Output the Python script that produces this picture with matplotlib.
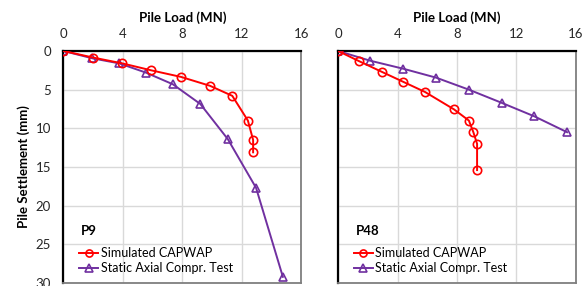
import matplotlib.pyplot as plt

# P9 verileri
p9_capwap_load = [0, 2.0, 3.95, 5.9, 7.9, 9.85, 11.35, 12.4, 12.75, 12.75]
p9_capwap_sett = [0, 0.85, 1.6, 2.5, 3.35, 4.5, 5.8, 9.0, 11.5, 13.1]
p9_static_load = [0, 1.95, 3.75, 5.55, 7.35, 9.2, 11.05, 12.95, 14.75]
p9_static_sett = [0, 0.95, 1.6, 2.8, 4.3, 6.85, 11.4, 17.7, 29.2]

# P48 verileri
p48_capwap_load = [0, 1.4, 2.95, 4.4, 5.85, 7.8, 8.8, 9.1, 9.35, 9.35]
p48_capwap_sett = [0, 1.3, 2.7, 4.0, 5.3, 7.55, 9.0, 10.5, 12.0, 15.4]
p48_static_load = [0, 2.15, 4.4, 6.6, 8.8, 11.0, 13.2, 15.4]
p48_static_sett = [0, 1.25, 2.3, 3.45, 5.0, 6.7, 8.45, 10.5]

x_ticks = [0, 4, 8, 12, 16]
y_ticks = [0, 5, 10, 15, 20, 25, 30]

plt.rcParams['font.family'] = ['Lato', 'DejaVu Sans']

fig = plt.figure(figsize=(5.85, 2.86), dpi=100)
ax1 = fig.add_axes([0.1085, 0.0105, 0.4068, 0.8112])
ax2 = fig.add_axes([0.5778, 0.0105, 0.4068, 0.8112])

panels = [
    (ax1, 'P9', p9_capwap_load, p9_capwap_sett, p9_static_load, p9_static_sett),
    (ax2, 'P48', p48_capwap_load, p48_capwap_sett, p48_static_load, p48_static_sett),
]

for ax, name, cl, cs, sl, ss in panels:
    ax.plot(cl, cs, color='#FF0000', lw=1.4, marker='o', ms=6, mfc='none',
            mew=1.2, label='Simulated CAPWAP', zorder=4)
    ax.plot(sl, ss, color='#7030A0', lw=1.4, marker='^', ms=6, mfc='none',
            mew=1.2, label='Static Axial Compr. Test', zorder=3)
    ax.set_xlim(0, 16)
    ax.set_ylim(30, 0)
    ax.set_xticks(x_ticks)
    ax.set_yticks(y_ticks)
    ax.xaxis.tick_top()
    ax.xaxis.set_label_position('top')
    ax.set_xlabel('Pile Load (MN)', fontsize=9.5, fontweight='bold', labelpad=4)
    ax.tick_params(length=0, labelsize=9.5, colors='#262626')
    ax.tick_params(axis='x', pad=8)
    ax.tick_params(axis='y', pad=9)
    ax.grid(True, color='#D9D9D9', lw=1)
    ax.set_axisbelow(True)
    ax.spines['left'].set_color('black')
    ax.spines['left'].set_linewidth(1.6)
    ax.spines['top'].set_color('black')
    ax.spines['top'].set_linewidth(1.6)
    ax.spines['right'].set_color('#7F7F7F')
    ax.spines['right'].set_linewidth(1.3)
    ax.spines['bottom'].set_color('#7F7F7F')
    ax.spines['bottom'].set_linewidth(1.3)
    ax.text(0.075, 0.225, name, transform=ax.transAxes, fontsize=9.5,
            fontweight='bold', va='center', ha='left')
    ax.legend(loc='lower left', bbox_to_anchor=(0.03, 0.0), frameon=False,
              fontsize=9, handlelength=1.5, handletextpad=0.2,
              labelspacing=0.25, borderaxespad=0.3, markerscale=0.85)

ax1.set_ylabel('Pile Settlement (mm)', fontsize=9.5, fontweight='bold', labelpad=4)
ax2.tick_params(axis='y', labelleft=False)

fig.savefig('out.png', dpi=100)
